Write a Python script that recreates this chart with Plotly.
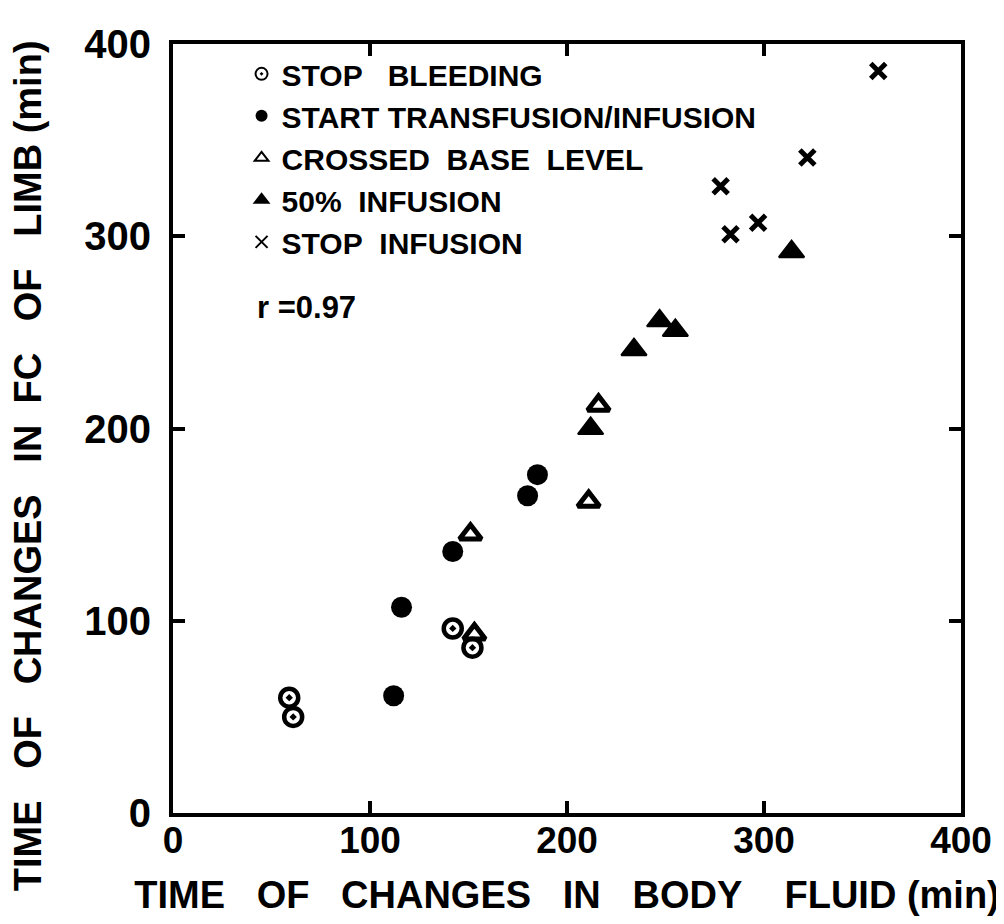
import plotly.graph_objects as go

# Data (minutes)
stop_bleeding_x = [59, 61, 142, 152]
stop_bleeding_y = [60, 50, 96, 86]

start_transfusion_x = [112, 116, 142, 180, 185]
start_transfusion_y = [61, 107, 136, 165, 176]

crossed_base_x = [151, 153, 211, 216]
crossed_base_y = [145, 93, 162, 212]

fifty_infusion_x = [212, 234, 247, 255, 314]
fifty_infusion_y = [200, 241, 256, 251, 292]

stop_infusion_x = [278, 283, 297, 322, 358]
stop_infusion_y = [326, 301, 307, 341, 386]

tick_vals = [0, 100, 200, 300, 400]
tick_text = ["0", "100", "200", "300", "400"]

NB = "\u00a0"
FONT = "Liberation Sans"

fig = go.Figure()

fig.add_trace(go.Scatter(
    x=stop_bleeding_x, y=stop_bleeding_y, mode="markers",
    name=f"STOP{NB*3}BLEEDING",
    marker=dict(symbol="circle-open-dot", size=18, color="black",
                line=dict(width=4.5, color="black")),
))
fig.add_trace(go.Scatter(
    x=start_transfusion_x, y=start_transfusion_y, mode="markers",
    name="START TRANSFUSION/INFUSION",
    marker=dict(symbol="circle", size=21, color="black"),
))
fig.add_trace(go.Scatter(
    x=crossed_base_x, y=crossed_base_y, mode="markers",
    name=f"CROSSED{NB*2}BASE{NB*2}LEVEL",
    marker=dict(symbol="triangle-up-open", size=19, color="black",
                line=dict(width=5, color="black")),
))
fig.add_trace(go.Scatter(
    x=fifty_infusion_x, y=fifty_infusion_y, mode="markers",
    name=f"50%{NB*2}INFUSION",
    marker=dict(symbol="triangle-up", size=22, color="black",
                line=dict(width=2, color="black")),
))
fig.add_trace(go.Scatter(
    x=stop_infusion_x, y=stop_infusion_y, mode="markers",
    name=f"STOP{NB*2}INFUSION",
    marker=dict(symbol="x-thin", size=15, color="black",
                line=dict(width=5, color="black")),
))

fig.add_annotation(
    x=0.104, y=0.657, xref="paper", yref="paper",
    text="r =0.97", showarrow=False, xanchor="left", yanchor="middle",
    font=dict(family=FONT, size=31, color="black", weight="bold"),
)

# Y-axis title placed as rotated text (centred as in the original)
fig.add_annotation(
    x=-0.183, y=0.452, xref="paper", yref="paper",
    text=f"TIME{NB*3}OF{NB*3}CHANGES{NB*3}IN{NB*2}FC{NB*3}OF{NB*3}LIMB (min)",
    textangle=-90, showarrow=False, xanchor="center", yanchor="middle",
    font=dict(family=FONT, size=38, color="black", weight="bold"),
)

axis_common = dict(
    range=[0, 400], tickvals=tick_vals, ticktext=tick_text,
    showline=True, linewidth=4, linecolor="black", mirror="ticks",
    ticks="inside", ticklen=12, tickwidth=4, tickcolor="black",
    showgrid=False, zeroline=False, automargin=False,
    title_font=dict(family=FONT, size=38, color="black", weight="bold"),
)

fig.update_xaxes(
    **axis_common,
    tickfont=dict(family=FONT, size=37, color="black", weight="bold"),
    ticklabelstandoff=-8,
    title_text=f"TIME{NB*3}OF{NB*3}CHANGES{NB*3}IN{NB*3}BODY{NB*4}FLUID (min)",
    title_standoff=22,
)
fig.update_yaxes(
    **axis_common,
    tickfont=dict(family=FONT, size=40, color="black", weight="bold"),
    ticklabelstandoff=10,
)

fig.update_layout(
    width=1004, height=924,
    margin=dict(l=165, r=51, t=36, b=119),
    paper_bgcolor="white", plot_bgcolor="white",
    font=dict(family=FONT, color="black"),
    showlegend=True,
    legend=dict(
        x=0.087, y=0.995, xanchor="left", yanchor="top",
        font=dict(family=FONT, size=30, color="black", weight="bold"),
        bgcolor="rgba(0,0,0,0)", borderwidth=0,
        itemsizing="constant", tracegroupgap=0,
    ),
)

fig.write_html("out.html")
